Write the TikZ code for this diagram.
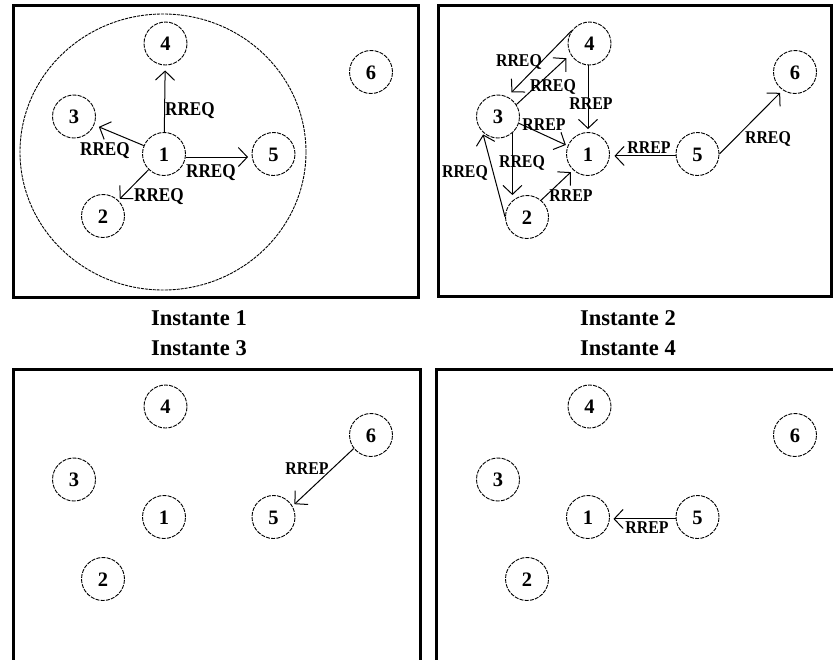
\documentclass[tikz,border=0pt]{standalone}
\usepackage{fontspec}
\setmainfont{Liberation Serif}
\newfontfamily\labfont[FakeStretch=0.88]{Liberation Serif}
\usetikzlibrary{arrows.meta}
\begin{document}
\begin{tikzpicture}[x=1pt,y=-1pt,
  nd/.style={circle, draw, line width=0.9pt, dash pattern=on 4pt off 1.2pt,
    minimum size=43pt, inner sep=0pt, font=\fontsize{20.5}{20.5}\selectfont\bfseries,
    text height=14pt, text depth=0pt},
  lab/.style={inner sep=0pt, font=\labfont\fontsize{18}{18}\selectfont\bfseries,
    text height=12pt, text depth=0pt},
  biglab/.style={inner sep=0pt, font=\labfont\fontsize{19.5}{19.5}\selectfont\bfseries,
    text height=13pt, text depth=0pt},
  arr/.style={line width=1pt, -{Straight Barb[length=9pt,width=19pt]}},
  panel/.style={line width=3pt},
  ttl/.style={inner sep=0pt, font=\fontsize{22.5}{22.5}\selectfont\bfseries,
    text height=15pt, text depth=0pt}]
\useasboundingbox (0,0) rectangle (833,659);
\fill[white] (0,0) rectangle (833,659);
\clip (0,0) rectangle (833,659);

% panels
\draw[panel] (13,5.5) rectangle (418.5,297.5);
\draw[panel] (438,5.5) rectangle (831,296.5);
\draw[panel] (13.5,369.5) rectangle (420.5,700);
\draw[panel] (436.5,369.5) rectangle (880,700);

% titles
\node[ttl] (t1) at (199,317.5) {Instante 1};
\node[ttl] (t2) at (628,317.5) {Instante 2};
\node[ttl] (t3) at (199,347.5) {Instante 3};
\node[ttl] (t4) at (628,347.5) {Instante 4};

% ---------- Instante 1 ----------
\draw[line width=0.9pt, dash pattern=on 3pt off 1pt] (163,152) ellipse [x radius=143, y radius=138];
\node[nd] (a1) at (164,154) {1};
\node[nd] (a2) at (103,216) {2};
\node[nd] (a3) at (74,116.5) {3};
\node[nd] (a4) at (165.5,43.5) {4};
\node[nd] (a5) at (273.5,154) {5};
\node[nd] (a6) at (371,72) {6};
\draw[arr, shorten >=5pt] (a1) -- (a4);
\draw[arr, shorten >=5pt] (a1) -- (a3);
\draw[arr, shorten >=3.5pt] (a1.-8) -- (a1.-8 -| a5.west);
\draw[arr, shorten >=2pt] (a1) -- (a2);
\node[biglab] (la14) at (190,109) {RREQ};
\node[biglab] (la13) at (105,149) {RREQ};
\node[biglab] (la15) at (211,171) {RREQ};
\node[biglab] (la12) at (159,195) {RREQ};

% ---------- Instante 2 ----------
\node[nd] (b1) at (588,154) {1};
\node[nd] (b2) at (527,217) {2};
\node[nd] (b3) at (498,116.5) {3};
\node[nd] (b4) at (589.5,43.5) {4};
\node[nd] (b5) at (697.5,154) {5};
\node[nd] (b6) at (795,72) {6};
\draw[arr, shorten >=6pt] (b4.144) -- (b3.65);
\draw[arr, shorten >=5.5pt] (b3.33) -- (b4.210);
\draw[arr, shorten >=3pt] (b4.south -| b1) -- (b1.north);
\draw[arr, shorten >=2pt] (b3.-18) -- (b1.158);
\draw[arr, shorten >=3pt] (b2.50) -- (b1.227);
\draw[arr] (b3.-49) -- (b3.-49 |- b2.north);
\draw[arr, shorten >=2.5pt] (b2.west) -- (b3.225);
\draw[arr, shorten >=4.5pt] (b5.185) -- (b5.185 -| b1.east);
\draw[arr, shorten >=3.7pt] (b5.east) -- (b6.236);
\node[lab] (lb43) at (519,60) {RREQ};
\node[lab] (lb34) at (553,85) {RREQ};
\node[lab] (lb41) at (591,103) {RREP};
\node[lab] (lb31) at (544,124) {RREP};
\node[lab] (lb21) at (571,195) {RREP};
\node[lab] (lb32) at (522,161) {RREQ};
\node[lab] (lb23) at (465,171) {RREQ};
\node[lab] (lb51) at (649,147) {RREP};
\node[lab] (lb56) at (768,137) {RREQ};

% ---------- Instante 3 ----------
\node[nd] (c1) at (164,517) {1};
\node[nd] (c2) at (103,579) {2};
\node[nd] (c3) at (74,479.5) {3};
\node[nd] (c4) at (165.5,406.5) {4};
\node[nd] (c5) at (273.5,517) {5};
\node[nd] (c6) at (371,435) {6};
\draw[arr, shorten >=2.7pt] (c6.218) -- (c5.30);
\node[lab] (lc65) at (307,468) {RREP};

% ---------- Instante 4 ----------
\node[nd] (d1) at (588,517) {1};
\node[nd] (d2) at (527,579) {2};
\node[nd] (d3) at (498,479.5) {3};
\node[nd] (d4) at (589.5,406.5) {4};
\node[nd] (d5) at (697.5,517) {5};
\node[nd] (d6) at (795,435) {6};
\draw[arr, shorten >=3.5pt] (d5.185) -- (d5.185 -| d1.east);
\node[lab] (ld51) at (647,527) {RREP};
\end{tikzpicture}
\end{document}
